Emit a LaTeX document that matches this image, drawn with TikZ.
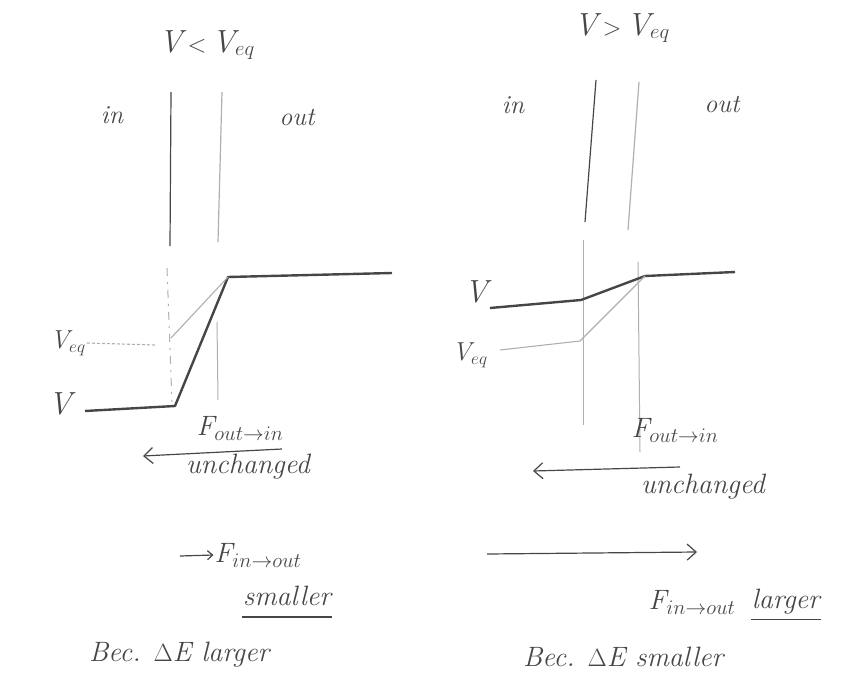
\documentclass[tikz,border=0pt]{standalone}
\usepackage{amsmath,amssymb}
\usetikzlibrary{positioning,arrows.meta}
\definecolor{ink}{RGB}{70,70,70}
\definecolor{faint}{RGB}{175,175,175}
\tikzset{
  title/.style={text=ink, font=\fontsize{32}{34}\selectfont\itshape},
  lbl/.style={text=ink, font=\fontsize{26}{28}\selectfont\itshape, inner sep=1pt},
  note/.style={text=ink, font=\fontsize{28}{30}\selectfont\itshape, inner sep=1pt},
  membrane/.style={draw=ink, line width=1.2pt},
  membranelight/.style={draw=faint, line width=1pt},
  potential/.style={draw=ink, line width=2.4pt, line join=round},
  eqline/.style={draw=faint, line width=1.1pt},
  flux/.style={draw=ink, line width=1.2pt, -{Straight Barb[length=9pt,width=16pt]}},
}
\begin{document}
\begin{tikzpicture}[x=1pt, y=-1pt]
  \useasboundingbox (0,0) rectangle (862,693);
  % left panel: V < Veq
  \node[title] (ltitle) at (207,45) {V\,$<$\,V$_{eq}$};
  \node[lbl] (lin) at (112,115) {in};
  \node[lbl] (lout) at (297,118) {out};
  \coordinate (la1) at (171,92);  \coordinate (la2) at (170,246);
  \coordinate (la3) at (167,268); \coordinate (la4) at (172,402);
  \coordinate (lb1) at (222,92);  \coordinate (lb2) at (218,242);
  \coordinate (lb3) at (217,322); \coordinate (lb4) at (218,400);
  \draw[membrane] (la1) -- (la2);
  \draw[membrane, draw=faint, dash pattern=on 8pt off 6pt on 2pt off 6pt, line width=1pt] (la3) -- (la4);
  \draw[membrane, draw=faint] (lb1) -- (lb2);
  \draw[membranelight] (lb3) -- (lb4);
  \coordinate (lv1) at (85,411);  \coordinate (lv2) at (175,406);
  \coordinate (lv3) at (228,277); \coordinate (lv4) at (392,273);
  \draw[potential] (lv1) -- (lv2) -- (lv3) -- (lv4);
  \node[lbl] (lveq) at (68,343) {V$_{eq}$};
  \coordinate (le1) at (155,345); \coordinate (le2) at (171,338);
  \draw[eqline, densely dashed] (lveq.east) -- (le1);
  \draw[eqline] (le2) -- (lv3);
  \node[title] (lvlab) at (60,404) {V};
  \node[note] (lfout) at (240,428) {F$_{out\to in}$};
  \coordinate (lfa) at (282,449); \coordinate (lfb) at (143,456);
  \draw[flux] (lfa) -- (lfb);
  \node[note] (lunch) at (248,467) {unchanged};
  \node[note] (lfin) at (258,555) {F$_{in\to out}$};
  \coordinate (lfc) at (180,556);
  \draw[flux, -{Straight Barb[length=5pt,width=9pt]}] (lfc) -- (lfin.west);
  \node[note] (lsmall) at (287,596) {smaller};
  \draw[ink, line width=1.2pt] ([yshift=-10pt]lsmall.south west) -- ([yshift=-10pt]lsmall.south east);
  \node[note, anchor=west] (lbec) at (88,655) {Bec. $\Delta$E larger};
  % right panel: V > Veq
  \node[title] (rtitle) at (622,28) {V\,$>$\,V$_{eq}$};
  \node[lbl] (rin) at (513,105) {in};
  \node[lbl] (rout) at (722,105) {out};
  \coordinate (ra1) at (596,80);  \coordinate (ra2) at (585,222);
  \coordinate (ra3) at (583,240); \coordinate (ra4) at (583,425);
  \coordinate (rb1) at (639,82);  \coordinate (rb2) at (628,230);
  \coordinate (rb3) at (638,262); \coordinate (rb4) at (640,452);
  \draw[membrane] (ra1) -- (ra2);
  \draw[membrane, draw=faint] (rb1) -- (rb2);
  \draw[membranelight] (ra3) -- (ra4);
  \draw[membranelight] (rb3) -- (rb4);
  \coordinate (rv1) at (490,308); \coordinate (rv2) at (581,300);
  \coordinate (rv3) at (645,276); \coordinate (rv4) at (735,272);
  \draw[potential] (rv1) -- (rv2) -- (rv3) -- (rv4);
  \coordinate (re1) at (500,350); \coordinate (re2) at (580,341);
  \draw[eqline] (re1) -- (re2) -- (rv3);
  \node[title] (rvlab) at (476,292) {V};
  \node[lbl] (rveq) at (470,355) {V$_{eq}$};
  \node[note] (rfout) at (675,430) {F$_{out\to in}$};
  \coordinate (rfa) at (680,467); \coordinate (rfb) at (533,471);
  \draw[flux] (rfa) -- (rfb);
  \node[note] (runch) at (703,487) {unchanged};
  \coordinate (rfc) at (487,554); \coordinate (rfd) at (697,552);
  \draw[flux] (rfc) -- (rfd);
  \node[note] (rfin) at (692,602) {F$_{in\to out}$};
  \node[note, right=14pt of rfin] (rlarge) {larger};
  \draw[ink, line width=1.2pt] ([yshift=-4pt]rlarge.south west) -- ([yshift=-4pt]rlarge.south east);
  \node[note, anchor=west] (rbec) at (522,657) {Bec. $\Delta$E smaller};
\end{tikzpicture}
\end{document}
